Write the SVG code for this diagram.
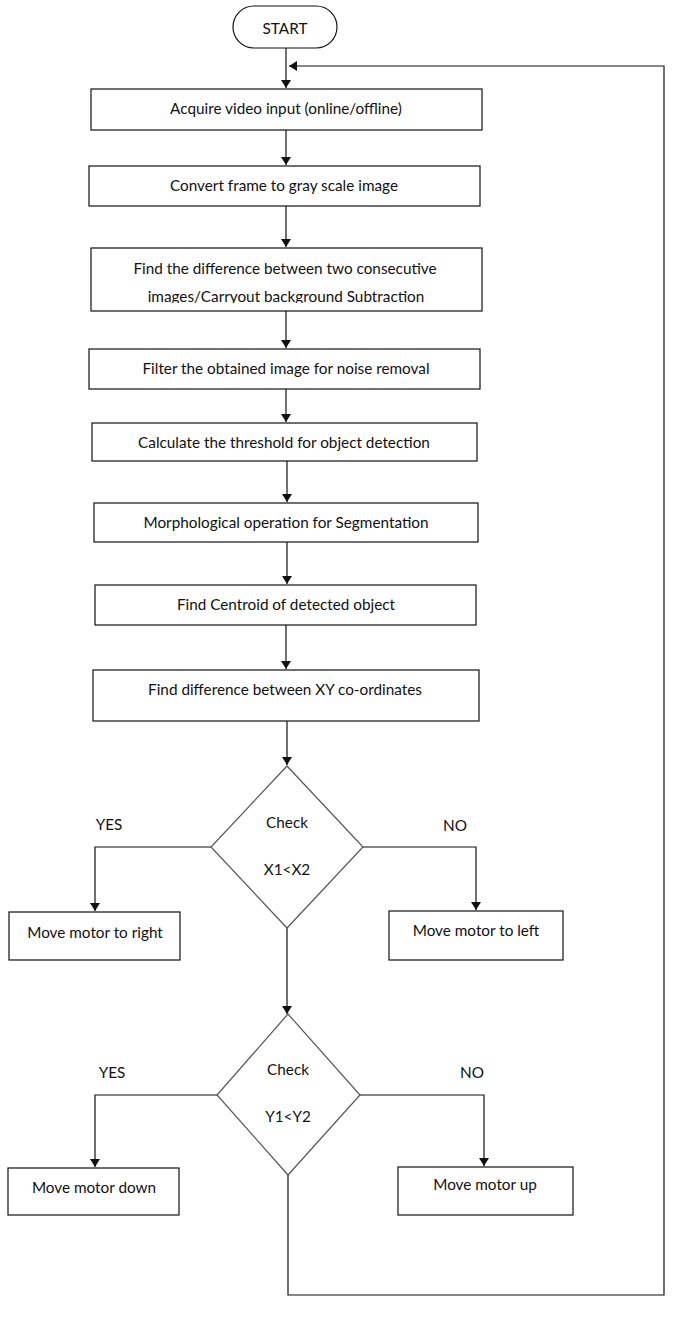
<svg xmlns="http://www.w3.org/2000/svg" width="686" height="1319" viewBox="0 0 686 1319">
<style>
.box{fill:#fff;stroke:#111;stroke-width:1.2}
.dia{fill:#fff;stroke:#555;stroke-width:1.2}
.t{font-family:Lato,"Open Sans","Liberation Sans",sans-serif;font-size:15.3px;fill:#111;text-anchor:middle}
.c{fill:none;stroke:#111;stroke-width:1.2}
</style>
<defs>
<marker id="ah" markerWidth="8" markerHeight="10" refX="8" refY="5" orient="auto" markerUnits="userSpaceOnUse">
<path d="M0,0 L8,5 L0,10 Z" fill="#111"/>
</marker>
<clipPath id="clip3"><rect x="91" y="249" width="390" height="54"/></clipPath>
</defs>
<rect width="686" height="1319" fill="#fff"/>
<g id="connectors">
<line class="c" x1="286" y1="48" x2="286" y2="88" marker-end="url(#ah)"/>
<polyline class="c" points="288,1175 288,1295 664,1295 664,66 289,66" marker-end="url(#ah)"/>
<line class="c" x1="286" y1="130" x2="286" y2="165" marker-end="url(#ah)"/>
<line class="c" x1="286" y1="206" x2="286" y2="247" marker-end="url(#ah)"/>
<line class="c" x1="286" y1="311" x2="286" y2="348" marker-end="url(#ah)"/>
<line class="c" x1="286" y1="389" x2="286" y2="422" marker-end="url(#ah)"/>
<line class="c" x1="287" y1="461" x2="287" y2="502" marker-end="url(#ah)"/>
<line class="c" x1="287" y1="542" x2="287" y2="584" marker-end="url(#ah)"/>
<line class="c" x1="286" y1="625" x2="286" y2="669" marker-end="url(#ah)"/>
<line class="c" x1="287" y1="721" x2="287" y2="765" marker-end="url(#ah)"/>
<polyline class="c" points="211,847 95,847 95,911" marker-end="url(#ah)"/>
<polyline class="c" points="363,847 476,847 476,910" marker-end="url(#ah)"/>
<line class="c" x1="287" y1="928" x2="287" y2="1014" marker-end="url(#ah)"/>
<polyline class="c" points="217,1095 95,1095 95,1167" marker-end="url(#ah)"/>
<polyline class="c" points="360,1095 484,1095 484,1166" marker-end="url(#ah)"/>
</g>
<g id="start">
<rect class="box" x="233" y="6" width="104" height="42" rx="21"/>
<text class="t" x="285" y="34">START</text>
</g>
<g id="acquire">
<rect class="box" x="91" y="89" width="391" height="41"/>
<text class="t" x="286" y="114">Acquire video input (online/offline)</text>
</g>
<g id="convert">
<rect class="box" x="89" y="166" width="391" height="40"/>
<text class="t" x="284" y="191">Convert frame to gray scale image</text>
</g>
<g id="difference">
<rect class="box" x="91" y="248" width="391" height="63"/>
<text class="t" x="285" y="274">Find the difference between two consecutive</text>
<text class="t" x="286" y="302" clip-path="url(#clip3)">images/Carryout background Subtraction</text>
</g>
<g id="filter">
<rect class="box" x="89" y="349" width="391" height="40"/>
<text class="t" x="286" y="374">Filter the obtained image for noise removal</text>
</g>
<g id="threshold">
<rect class="box" x="92" y="423" width="385" height="38"/>
<text class="t" x="284" y="448">Calculate the threshold for object detection</text>
</g>
<g id="morph">
<rect class="box" x="94" y="503" width="384" height="39"/>
<text class="t" x="286" y="528">Morphological operation for Segmentation</text>
</g>
<g id="centroid">
<rect class="box" x="95" y="585" width="381" height="40"/>
<text class="t" x="286" y="610">Find Centroid of detected object</text>
</g>
<g id="xydiff">
<rect class="box" x="93" y="670" width="386" height="51"/>
<text class="t" x="285" y="695">Find difference between XY co-ordinates</text>
</g>
<g id="check-x">
<polygon class="dia" points="287,766 363,847 287,928 211,847"/>
<text class="t" x="287" y="828">Check</text>
<text class="t" x="287" y="875">X1&lt;X2</text>
</g>
<text class="t" x="109" y="830">YES</text>
<text class="t" x="455" y="831">NO</text>
<g id="right">
<rect class="box" x="9" y="912" width="171" height="48"/>
<text class="t" x="95" y="938">Move motor to right</text>
</g>
<g id="left">
<rect class="box" x="389" y="911" width="174" height="49"/>
<text class="t" x="476" y="936">Move motor to left</text>
</g>
<g id="check-y">
<polygon class="dia" points="288,1014 360,1095 288,1175 217,1095"/>
<text class="t" x="288" y="1075">Check</text>
<text class="t" x="288" y="1122">Y1&lt;Y2</text>
</g>
<text class="t" x="112" y="1078">YES</text>
<text class="t" x="472" y="1078">NO</text>
<g id="down">
<rect class="box" x="8" y="1168" width="171" height="47"/>
<text class="t" x="94" y="1193">Move motor down</text>
</g>
<g id="up">
<rect class="box" x="398" y="1167" width="175" height="48"/>
<text class="t" x="485" y="1190">Move motor up</text>
</g>
</svg>
